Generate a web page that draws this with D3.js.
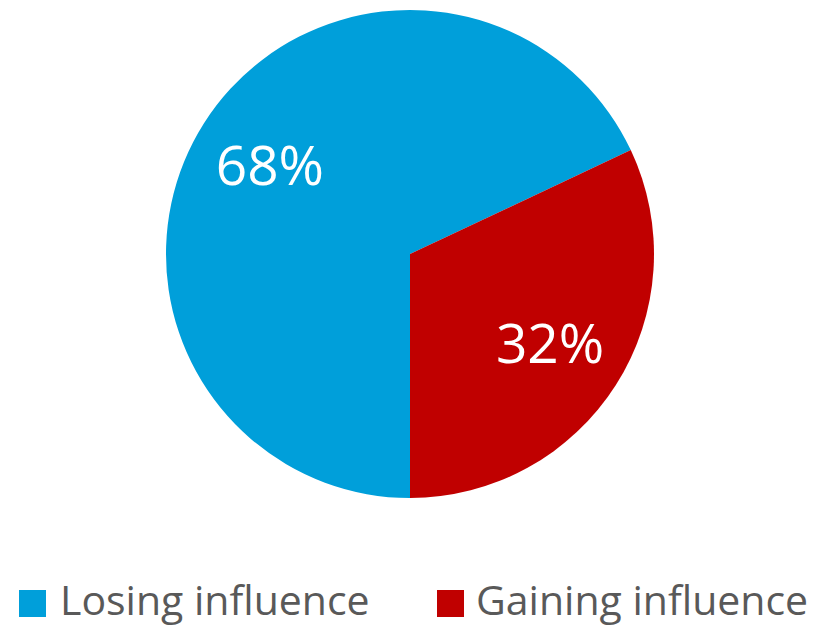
<!DOCTYPE html>
<html>
<head>
<meta charset="utf-8">
<script src="https://cdn.jsdelivr.net/npm/d3@7"></script>
<style>
  html, body { margin: 0; padding: 0; background: #ffffff; }
  svg { display: block; }
</style>
</head>
<body>
<svg id="chart" width="821" height="626"></svg>
<script>
// Share of respondents by direction of influence
const categories = ["Losing influence", "Gaining influence"];
const values = [68, 32];
const valueLabels = ["68%", "32%"];
const colors = ["#009FDA", "#C00000"];

const svg = d3.select("#chart");
const cx = 410, cy = 254, radius = 244;
const fontFamily = "'Open Sans', 'Noto Sans', sans-serif";

const pie = d3.pie()
  .sort(null)
  .value(d => d.value)
  .startAngle(Math.PI)
  .endAngle(3 * Math.PI);

const data = categories.map((c, i) => ({ name: c, value: values[i], label: valueLabels[i], color: colors[i] }));
const arcs = pie(data);

const arc = d3.arc().innerRadius(0).outerRadius(radius);
const labelArc = d3.arc().innerRadius(radius * 0.68).outerRadius(radius * 0.68);

const g = svg.append("g").attr("transform", `translate(${cx},${cy})`);

g.selectAll("path.slice")
  .data(arcs)
  .join("path")
  .attr("class", "slice")
  .attr("d", arc)
  .attr("fill", d => d.data.color);

// Value labels: baseline sits half a cap height below the centroid
g.selectAll("text.value")
  .data(arcs)
  .join("text")
  .attr("class", "value")
  .attr("transform", d => `translate(${labelArc.centroid(d)})`)
  .attr("text-anchor", "middle")
  .attr("dy", 20)
  .attr("fill", "#ffffff")
  .style("font-family", fontFamily)
  .style("font-size", "55px")
  .text(d => d.data.label);

// Legend
const legendItems = [
  { x: 19, textX: 60 },
  { x: 437, textX: 476 }
];
const legend = svg.append("g");
const item = legend.selectAll("g")
  .data(data)
  .join("g")
  .attr("transform", (d, i) => `translate(${legendItems[i].x},590)`);

item.append("rect")
  .attr("width", 27)
  .attr("height", 27)
  .attr("fill", d => d.color);

item.append("text")
  .attr("x", (d, i) => legendItems[i].textX - legendItems[i].x)
  .attr("y", 25)
  .attr("fill", "#595959")
  .style("font-family", fontFamily)
  .style("font-size", "41px")
  .text(d => d.name);
</script>
</body>
</html>
